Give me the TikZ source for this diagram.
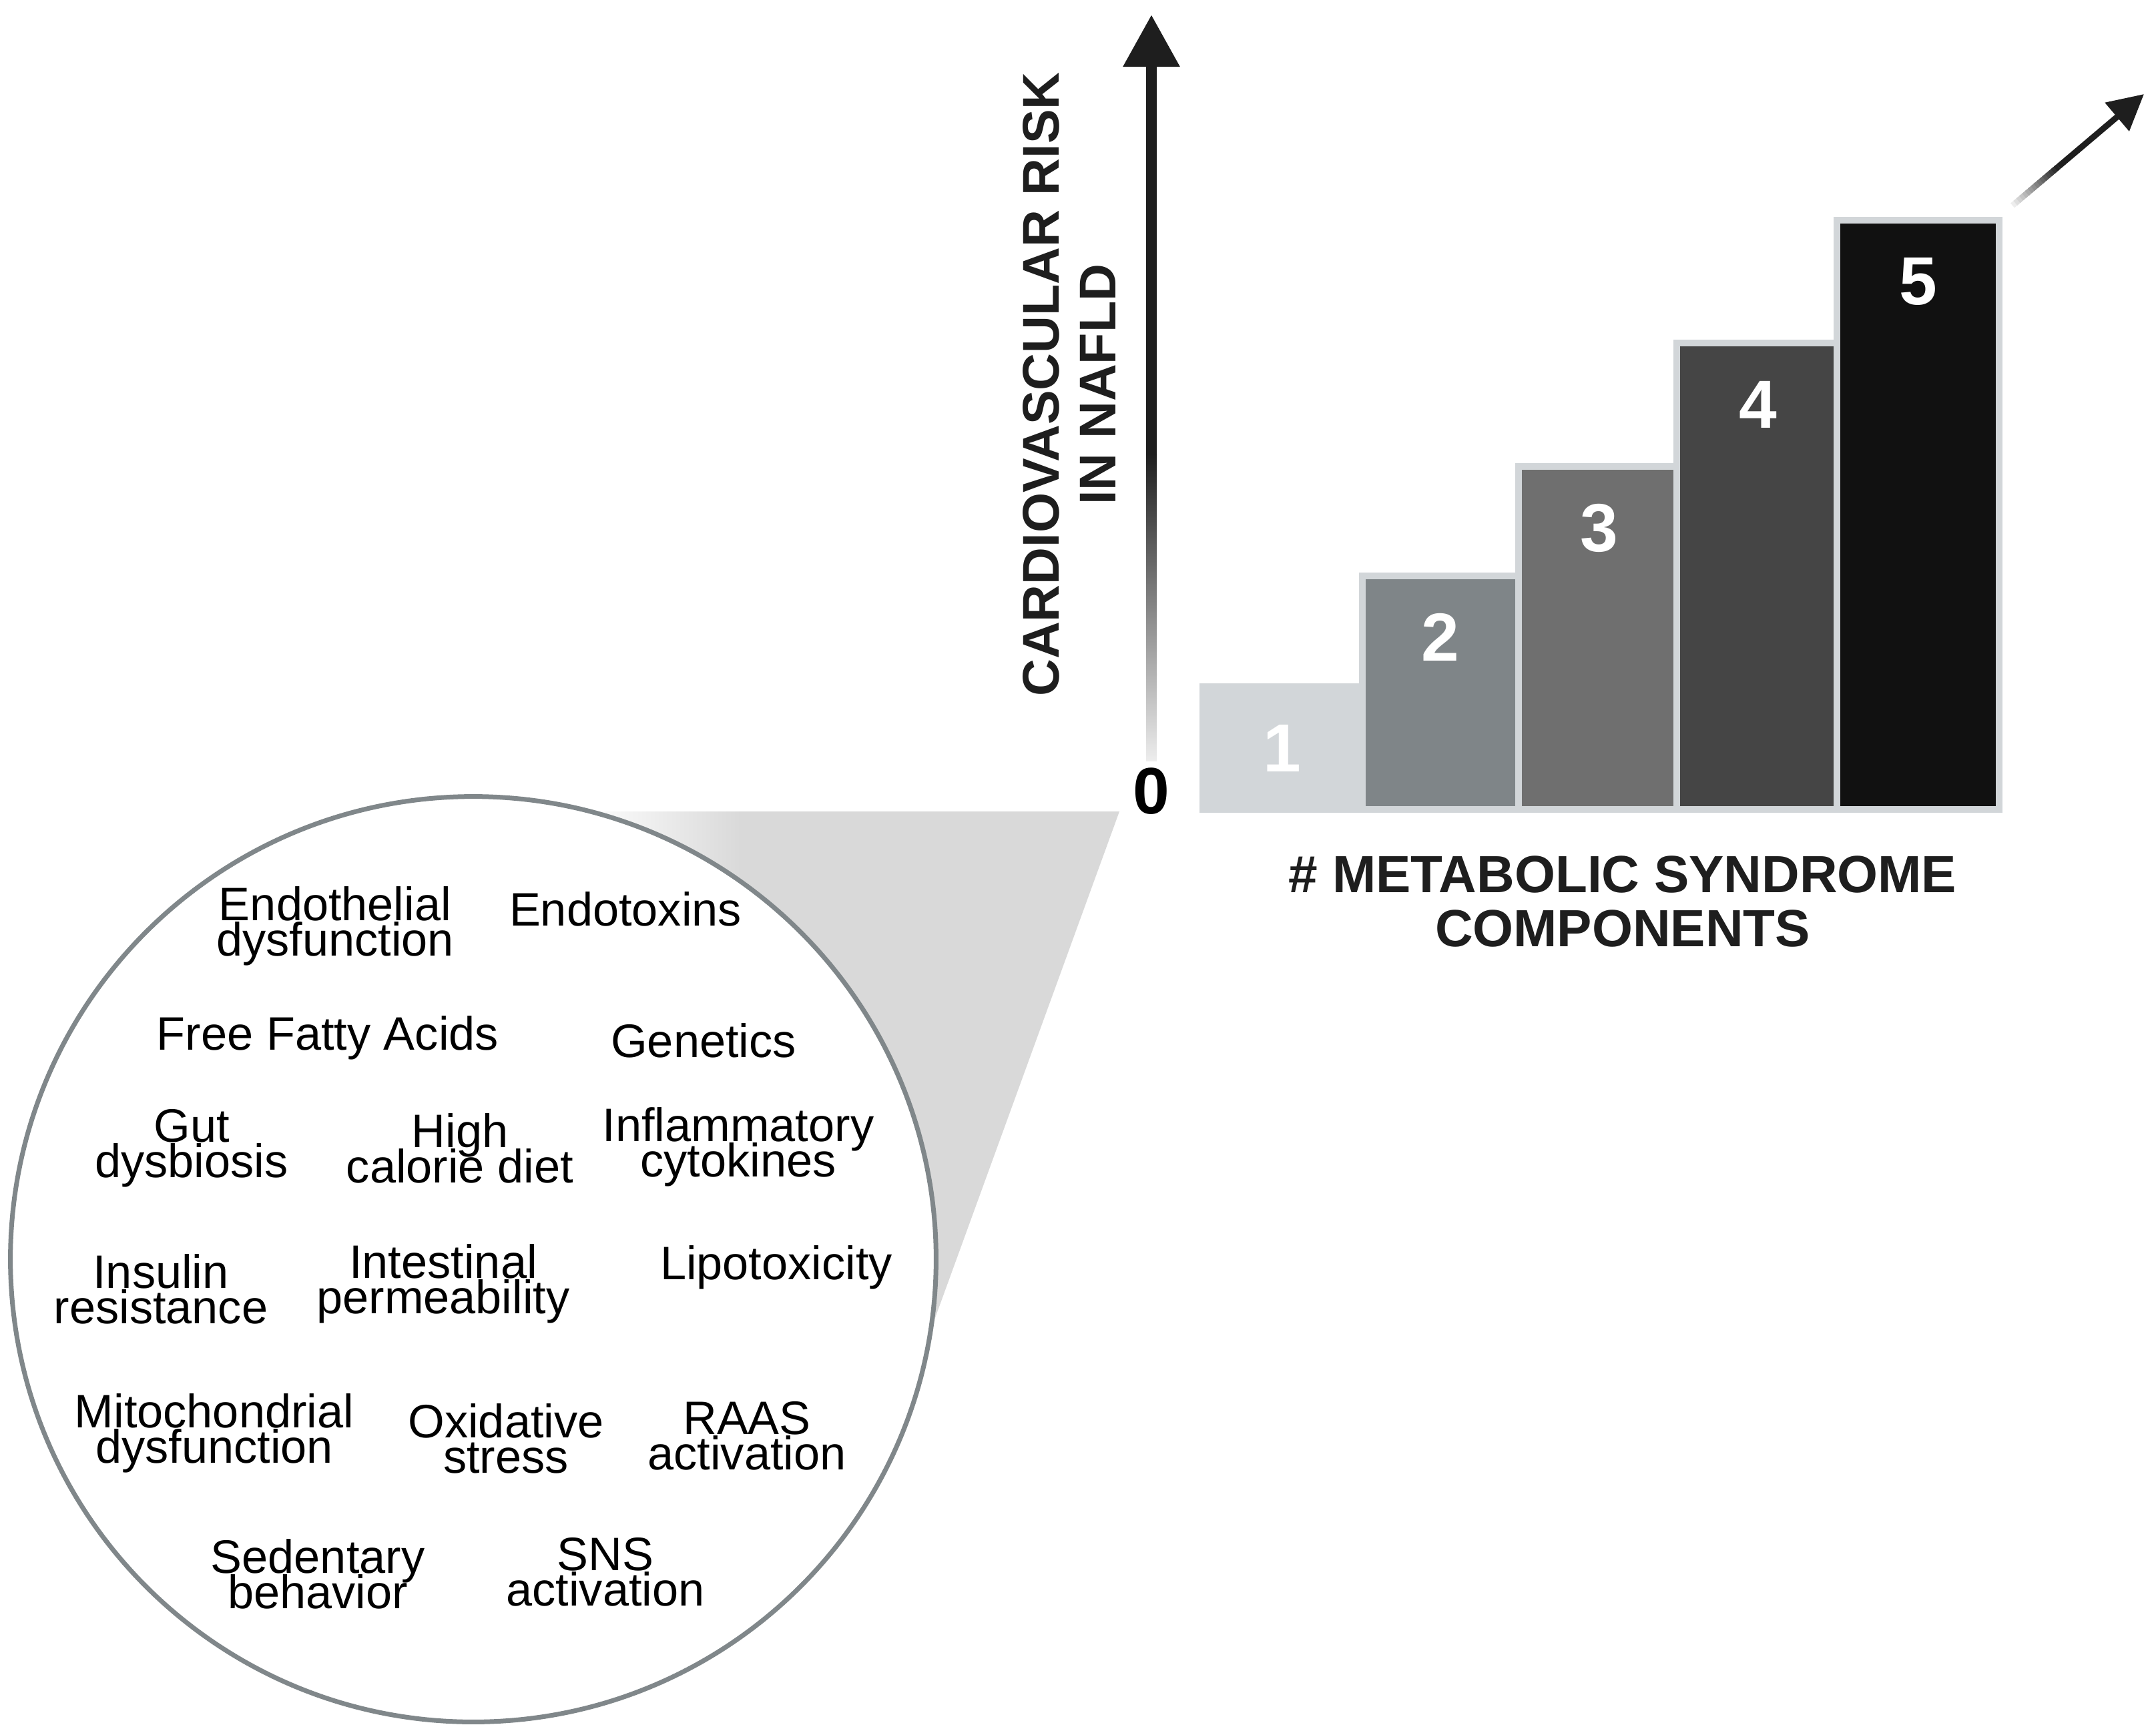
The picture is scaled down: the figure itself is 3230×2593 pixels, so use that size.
\documentclass[tikz,border=0pt]{standalone}
\usepackage{fontspec}
\setmainfont{Liberation Sans}
\usetikzlibrary{arrows.meta, calc}

\definecolor{axisdark}{HTML}{1E1E1E}
\definecolor{ringgray}{HTML}{80878A}
\definecolor{wedgegray}{HTML}{D9D9D9}
\definecolor{barline}{HTML}{D2D6D9}
\definecolor{barone}{HTML}{D2D6D9}
\definecolor{bartwo}{HTML}{7F8588}
\definecolor{barthree}{HTML}{6F6F6F}
\definecolor{barfour}{HTML}{454545}
\definecolor{barfive}{HTML}{111111}

\newcommand{\factorfont}{\fontsize{20}{15}\selectfont\lineskiplimit=-50pt\relax}

\begin{document}
\begin{tikzpicture}[x=0.01cm, y=-0.01cm,
    factor/.style={align=center, inner sep=0pt, font=\factorfont},
    axislabel/.style={align=center, inner sep=0pt, text=axisdark, font=\fontsize{22.3}{23}\bfseries\selectfont},
    barnum/.style={inner sep=0pt, text=white, font=\fontsize{29}{29}\bfseries\selectfont},
    bar/.style={draw=barline, line width=0.1cm},
    axis/.style={axisdark, line width=0.16cm, -{Triangle[length=0.78cm, width=0.81cm]}},
    trend/.style={axisdark, line width=0.09cm, -{Triangle[length=0.53cm, width=0.54cm]}}]
        \useasboundingbox (0,0) rectangle (3230,2593);

        % Zoom cone towards the origin
        \coordinate (apex) at (1677,1216);
        \begin{scope}
            \clip (820,1216) -- (apex) -- (1370,2060) -- (820,1887) -- cycle;
            \fill[wedgegray] (800,1200) rectangle (1700,2100);
            \shade[left color=white, right color=wedgegray] (870,1200) rectangle (1110,2100);
        \end{scope}

        % Circle of factors
        \node[circle, draw=ringgray, line width=0.07cm, fill=white, minimum size=13.86cm, inner sep=0pt] (ring) at (709,1887) {};
        \node[factor] (endo) at (502,1388) {Endothelial\\dysfunction};
        \node[factor] (tox) at (937,1362) {Endotoxins};
        \node[factor] (ffa) at (491,1555) {Free Fatty Acids};
        \node[factor] (gen) at (1054,1559) {Genetics};
        \node[factor] (gut) at (287,1721) {Gut\\dysbiosis};
        \node[factor] (diet) at (689,1721) {High\\calorie diet};
        \node[factor] (infl) at (1106,1719) {Inflammatory\\cytokines};
        \node[factor] (ins) at (241,1932) {Insulin\\resistance};
        \node[factor] (perm) at (664,1924) {Intestinal\\permeability};
        \node[factor] (lipo) at (1163,1899) {Lipotoxicity};
        \node[factor] (mito) at (321,2148) {Mitochondrial\\dysfunction};
        \node[factor] (oxi) at (758,2156) {Oxidative\\stress};
        \node[factor] (raas) at (1119,2152) {RAAS\\activation};
        \node[factor] (sed) at (476,2359) {Sedentary\\behavior};
        \node[factor] (sns) at (907,2356) {SNS\\activation};

        % Risk axis
        \coordinate (ytop) at (1725,22);
        \coordinate (yfade) at (1725,680);
        \node[inner sep=0pt, font=\fontsize{28}{28}\bfseries\selectfont] (zero) at (1725,1186) {0};
        \shade[top color=axisdark, bottom color=axisdark!8!white] (1717,680) rectangle (1733,1140);
        \draw[axis] (yfade) -- (ytop);
        \node[axislabel, rotate=90, font=\fontsize{22}{24}\bfseries\selectfont] (ylab) at (1602,576) {CARDIOVASCULAR RISK\\IN NAFLD};

        % Bars
        \draw[bar, fill=barone] (1802,1213) rectangle (2041,1029);
        \draw[bar, fill=bartwo] (2041,1213) rectangle (2275,863);
        \draw[bar, fill=barthree] (2275,1213) rectangle (2512,699);
        \draw[bar, fill=barfour] (2512,1213) rectangle (2752,514);
        \draw[bar, fill=barfive] (2752,1213) rectangle (2995,330);
        \node[barnum] (n1) at (1921,1121) {1};
        \node[barnum] (n2) at (2158,955) {2};
        \node[barnum] (n3) at (2396,791) {3};
        \node[barnum] (n4) at (2634,606) {4};
        \node[barnum] (n5) at (2874,422) {5};

        % Trend arrow
        \coordinate (tstart) at (3015,308);
        \coordinate (ttip) at (3212,141);
        \coordinate (tmid) at ($(tstart)!0.35!(ttip)$);
        \foreach \k in {0,...,15} {
            \pgfmathsetmacro{\fa}{\k/16}
            \pgfmathsetmacro{\fb}{min(1,(\k+1.6)/16)}
            \pgfmathtruncatemacro{\tone}{8+90*\k/15}
            \draw[axisdark!\tone!white, line width=0.09cm] ($(tstart)!\fa!(tmid)$) -- ($(tstart)!\fb!(tmid)$);
        }
        \draw[trend] (tmid) -- (ttip);

        \node[axislabel] (xlab) at (2431,1351) {\# METABOLIC SYNDROME\\COMPONENTS};
\end{tikzpicture}
\end{document}
